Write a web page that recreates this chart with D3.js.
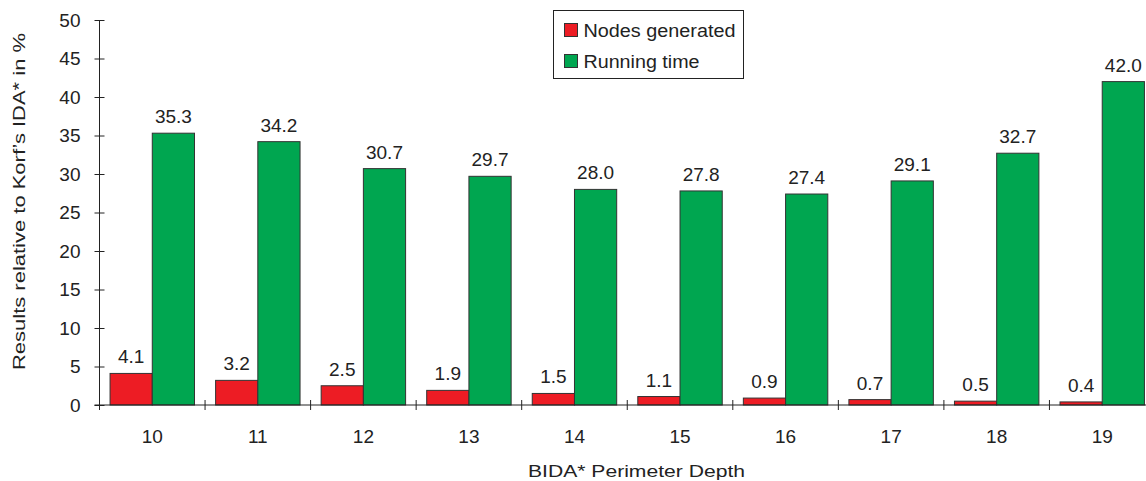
<!DOCTYPE html>
<html>
<head>
<meta charset="utf-8">
<script src="https://cdn.jsdelivr.net/npm/d3@7"></script>
<style>
  body { margin: 0; background: #fff; }
  svg { display: block; font-family: "Liberation Sans", Arial, sans-serif; }
  .axis path, .axis line { stroke: #222; }
  .axis text { font-size: 19px; fill: #222; }
  .label { font-size: 17px; fill: #222; }
  .value { font-size: 19px; fill: #222; }
</style>
</head>
<body>
<svg class="chart"></svg>
<script>
var depths = ["10", "11", "12", "13", "14", "15", "16", "17", "18", "19"];
var seriesNames = ["Nodes generated", "Running time"];
var seriesColors = ["#ed1c24", "#00a650"];
var nodesGenerated = [4.1, 3.2, 2.5, 1.9, 1.5, 1.1, 0.9, 0.7, 0.5, 0.4];
var runningTime = [35.3, 34.2, 30.7, 29.7, 28.0, 27.8, 27.4, 29.1, 32.7, 42.0];
var yTicks = [0, 5, 10, 15, 20, 25, 30, 35, 40, 45, 50];

// the original text is set a bit wide, so stretch it to the measured lengths
var legendTextLength = [152, 116];

var margin = {top: 20, bottom: 76, left: 99.5, right: -9},
    width = 1146 - margin.left - margin.right,
    height = 481 - margin.top - margin.bottom;

var svg = d3.select(".chart")
    .attr("width", 1146)
    .attr("height", 481)
  .append("g")
    .attr("transform", "translate(" + margin.left + "," + margin.top + ")");

var x = d3.scaleBand().domain(depths).range([0, width]).padding(0);
var bw = x.bandwidth();
var xs = d3.scaleBand().domain(seriesNames).range([bw * 0.1, bw * 0.9]).padding(0);
var y = d3.scaleLinear().domain([0, 50]).range([height, 0]);

var rows = depths.map(function(d, i) {
  return {depth: d, values: [nodesGenerated[i], runningTime[i]]};
});

// y axis with crossing ticks
var yAxis = svg.append("g")
    .attr("class", "axis")
    .call(d3.axisLeft(y).tickValues(yTicks).tickSize(5).tickPadding(14).tickFormat(d3.format("d")));
yAxis.select(".domain").attr("d", "M0," + y(50) + "V" + y(0));
yAxis.selectAll(".tick line").attr("x1", -5).attr("x2", 5);

// bars
var groups = svg.selectAll(".grp")
    .data(rows)
  .enter().append("g")
    .attr("transform", function(d) { return "translate(" + x(d.depth) + ",0)"; });

groups.selectAll("rect")
    .data(function(d) { return d.values.map(function(v, i) { return {name: seriesNames[i], value: v, i: i}; }); })
  .enter().append("rect")
    .attr("x", function(d) { return xs(d.name); })
    .attr("width", xs.bandwidth())
    .attr("y", function(d) { return y(d.value); })
    .attr("height", function(d) { return height - y(d.value); })
    .attr("fill", function(d) { return seriesColors[d.i]; })
    .attr("stroke", "#333")
    .attr("stroke-width", 1);

groups.selectAll(".value")
    .data(function(d) { return d.values.map(function(v, i) { return {name: seriesNames[i], value: v}; }); })
  .enter().append("text")
    .attr("class", "value")
    .attr("x", function(d) { return xs(d.name) + xs.bandwidth() / 2; })
    .attr("y", function(d) { return y(d.value) - 10; })
    .style("text-anchor", "middle")
    .text(function(d) { return d.value.toFixed(1); });

// x axis: labels at band centres, ticks at band edges
var xAxis = svg.append("g")
    .attr("class", "axis")
    .attr("transform", "translate(0," + height + ")")
    .call(d3.axisBottom(x).tickSize(0).tickPadding(25));
xAxis.select(".domain").attr("d", "M-5,0H" + width);

xAxis.selectAll(".edge")
    .data(depths)
  .enter().append("line")
    .attr("class", "edge")
    .attr("x1", function(d) { return x(d); })
    .attr("x2", function(d) { return x(d); })
    .attr("y1", -5)
    .attr("y2", 5);

svg.append("text")
    .attr("class", "label")
    .attr("transform", "translate(" + (636.5 - margin.left) + "," + (477 - margin.top) + ")")
    .attr("textLength", 217)
    .attr("lengthAdjust", "spacingAndGlyphs")
    .style("text-anchor", "middle")
    .text("BIDA* Perimeter Depth");

svg.append("text")
    .attr("class", "label")
    .attr("transform", "rotate(-90)")
    .attr("x", 0 - (201.5 - margin.top))
    .attr("y", 25 - margin.left)
    .attr("textLength", 337)
    .attr("lengthAdjust", "spacingAndGlyphs")
    .style("text-anchor", "middle")
    .text("Results relative to Korf\u2019s IDA* in %");

// legend
var legend = svg.append("g")
    .attr("transform", "translate(" + (553.5 - margin.left) + "," + (10.5 - margin.top) + ")");

legend.append("rect")
    .attr("width", 190)
    .attr("height", 68)
    .attr("fill", "#fff")
    .attr("stroke", "#222");

var items = legend.selectAll(".item")
    .data(seriesNames)
  .enter().append("g")
    .attr("transform", function(d, i) { return "translate(11," + (13 + i * 31) + ")"; });

items.append("rect")
    .attr("width", 13)
    .attr("height", 13)
    .attr("fill", function(d, i) { return seriesColors[i]; })
    .attr("stroke", "#333");

items.append("text")
    .attr("x", 19)
    .attr("y", 13)
    .attr("textLength", function(d, i) { return legendTextLength[i]; })
    .attr("lengthAdjust", "spacingAndGlyphs")
    .style("font-size", "17.5px")
    .style("fill", "#222")
    .text(function(d) { return d; });
</script>
</body>
</html>
